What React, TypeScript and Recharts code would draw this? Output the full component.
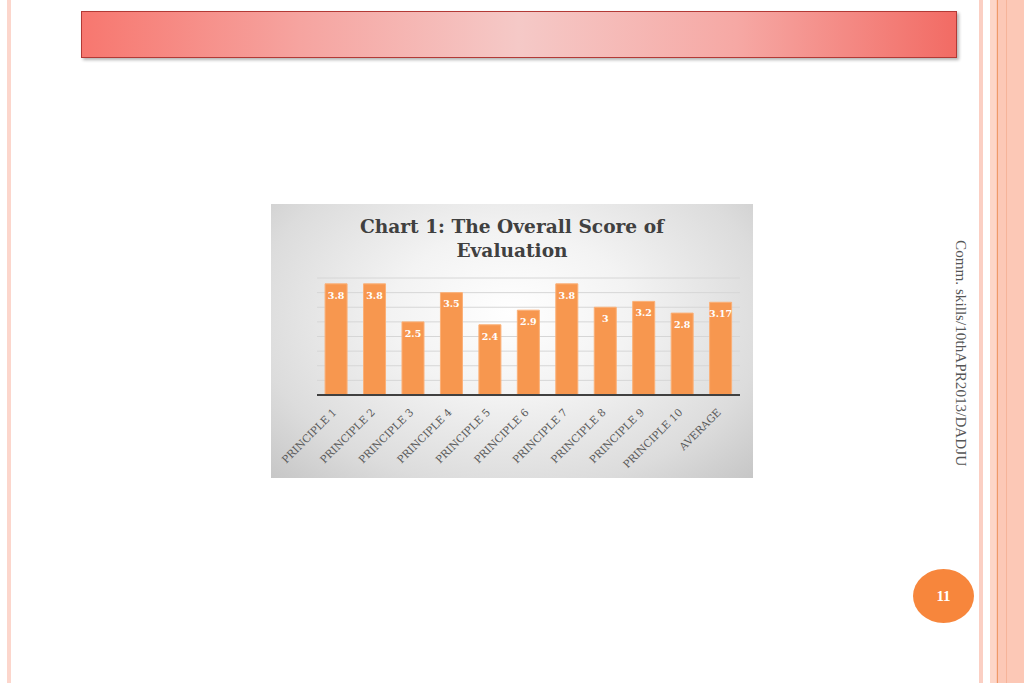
import React from "react";
import { BarChart, Bar, XAxis, YAxis, CartesianGrid, LabelList } from "recharts";

// categorías y puntajes
const categories = [
  "PRINCIPLE 1", "PRINCIPLE 2", "PRINCIPLE 3", "PRINCIPLE 4", "PRINCIPLE 5",
  "PRINCIPLE 6", "PRINCIPLE 7", "PRINCIPLE 8", "PRINCIPLE 9", "PRINCIPLE 10", "AVERAGE",
];
const scores = [3.8, 3.8, 2.5, 3.5, 2.4, 2.9, 3.8, 3, 3.2, 2.8, 3.17];
const yTicks = [0, 0.5, 1, 1.5, 2, 2.5, 3, 3.5, 4];

const titleLines = ["Chart 1: The Overall Score of", "Evaluation"];
const footer = "Comm. skills/10thAPR2013/DADJU";
const slideNumber = "11";

const data = categories.map((name, i) => ({ name, score: scores[i] }));

const serif = '"Liberation Serif", "DejaVu Serif", serif';
const wideSerif = '"DejaVu Serif", "Liberation Serif", serif';

function AngledTick(props: any) {
  const { x, y, payload } = props;
  return (
    <g transform={`translate(${x + 1},${y + 10})`}>
      <text
        transform="rotate(-45)"
        textAnchor="end"
        fontFamily={wideSerif}
        fontSize={10.5}
        fill="#595959"
      >
        {payload.value}
      </text>
    </g>
  );
}

export default function App() {
  return (
    <div style={{ position: "absolute", left: 0, top: 0, width: 1024, height: 683, background: "#fff", overflow: "hidden" }}>
      {/* franjas de la diapositiva */}
      <div style={{ position: "absolute", left: 7, top: 0, width: 4, height: 683, background: "#fcd6cc" }} />
      <div style={{ position: "absolute", left: 979, top: 0, width: 4, height: 683, background: "#fbcfc3" }} />
      <div style={{ position: "absolute", left: 990, top: 0, width: 34, height: 683, background: "#fcc8b6" }} />
      <div style={{ position: "absolute", left: 990, top: 0, width: 6, height: 683, background: "#fdd6c8" }} />
      <div style={{ position: "absolute", left: 997, top: 0, width: 1, height: 683, background: "#ef9a68" }} />
      <div style={{ position: "absolute", left: 1006, top: 0, width: 1, height: 683, background: "#f6b49a" }} />

      {/* barra de encabezado */}
      <div
        style={{
          position: "absolute", left: 81, top: 11, width: 874, height: 45,
          border: "1px solid #b23a36",
          background: "linear-gradient(to right, #f7776f 0%, #f6a4a0 25%, #f5c9c7 50%, #f6a8a4 75%, #f26b64 100%)",
          boxShadow: "2px 2px 3px rgba(0,0,0,0.3)",
        }}
      />

      {/* texto vertical */}
      <div
        style={{
          position: "absolute", left: 952, top: 240, writingMode: "vertical-rl",
          fontFamily: serif, fontSize: 15.2, color: "#555", lineHeight: "18px",
        }}
      >
        {footer}
      </div>

      {/* número de diapositiva */}
      <div
        style={{
          position: "absolute", left: 913, top: 569, width: 61, height: 54, borderRadius: "50%",
          background: "#f7863c", color: "#fff", fontFamily: serif, fontWeight: "bold", fontSize: 15,
          display: "flex", alignItems: "center", justifyContent: "center",
        }}
      >
        {slideNumber}
      </div>

      {/* imagen del gráfico */}
      <div
        style={{
          position: "absolute", left: 271, top: 204, width: 482, height: 274,
          background: "radial-gradient(ellipse at 50% 40%, #ffffff 0%, #f3f3f3 35%, #dcdcdc 75%, #c6c6c6 100%)",
        }}
      >
        <div
          style={{
            position: "absolute", left: 0, top: 11, width: 482, textAlign: "center",
            fontFamily: wideSerif, fontWeight: "bold", fontSize: 18.6, lineHeight: "24px", color: "#404040",
          }}
        >
          {titleLines.map((t) => <div key={t}>{t}</div>)}
        </div>
        <BarChart
          width={482}
          height={274}
          data={data}
          margin={{ top: 74, right: 13, bottom: 0, left: 46 }}
          barCategoryGap="21%"
          style={{ position: "absolute", left: 0, top: 0 }}
        >
          <CartesianGrid vertical={false} stroke="#d6d6d6" strokeWidth={1} horizontalValues={yTicks} />
          <YAxis hide domain={[0, 4]} ticks={yTicks} tickCount={9} interval={0} />
          <XAxis
            dataKey="name"
            height={83}
            interval={0}
            tickLine={false}
            axisLine={{ stroke: "#404040", strokeWidth: 2 }}
            tick={<AngledTick />}
          />
          <Bar dataKey="score" fill="#f7974f" stroke="#fbb077" strokeWidth={1} isAnimationActive={false}>
            <LabelList
              dataKey="score"
              position="insideTop"
              offset={8}
              fill="#fff"
              fontFamily={wideSerif}
              fontWeight="bold"
              fontSize={9.5}
            />
          </Bar>
        </BarChart>
      </div>
    </div>
  );
}
